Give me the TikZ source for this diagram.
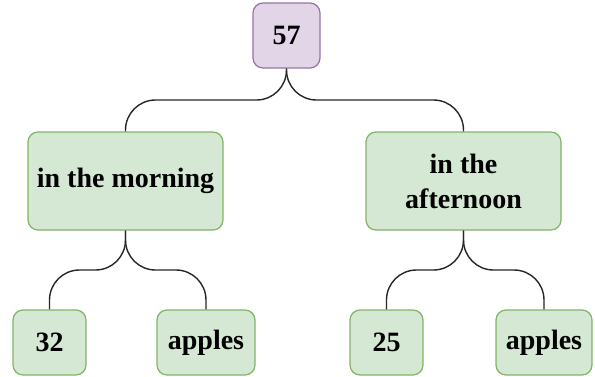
\documentclass[tikz,border=0pt]{standalone}
\usepackage{fontspec}
\setmainfont{Liberation Serif}
\usetikzlibrary{calc}

\definecolor{leaffill}{HTML}{D5E8D4}
\definecolor{leafline}{HTML}{82B366}
\definecolor{rootfill}{HTML}{E1D5E7}
\definecolor{rootline}{HTML}{9673A6}

\begin{document}
\begin{tikzpicture}[x=0.5pt, y=-0.5pt,
    every node/.style={rectangle, rounded corners=5pt, line width=0.6pt, inner sep=0pt,
        align=center, font=\fontsize{14}{17.5}\selectfont\bfseries},
    greenbox/.style={draw=leafline, fill=leaffill},
    purplebox/.style={draw=rootline, fill=rootfill},
    link/.style={draw=black!85, line width=0.7pt, rounded corners=15pt,
        to path={-- ($(\tikztostart)!0.5!(\tikztostart|-\tikztotarget)$) -| (\tikztotarget)}}]
			\useasboundingbox (0,0) rectangle (595,376);

			\node[purplebox, minimum width=33.5pt, minimum height=32.5pt] (total) at (286.5,35.5){57};

			\node[greenbox, minimum width=97.5pt, minimum height=49pt] (morning) at (125.5,181){in the morning};
			\node[greenbox, minimum width=97.5pt, minimum height=49pt] (afternoon) at (463.5,181){in the\\afternoon};

			\node[greenbox, minimum width=36.5pt, minimum height=32.5pt] (m1) at (49.5,342.5){32};
			\node[greenbox, minimum width=49pt, minimum height=32.5pt] (m2) at (206,342.5){apples};
			\node[greenbox, minimum width=36.5pt, minimum height=32.5pt] (a1) at (386.5,342.5){25};
			\node[greenbox, minimum width=48pt, minimum height=32.5pt] (a2) at (544,342.5){apples};

			\path (total.south) edge[link] (morning.north);
			\path (total.south) edge[link] (afternoon.north);
			\path (morning.south) edge[link] (m1.north);
			\path (morning.south) edge[link] (m2.north);
			\path (afternoon.south) edge[link] (a1.north);
			\path (afternoon.south) edge[link] (a2.north);
\end{tikzpicture}
\end{document}
